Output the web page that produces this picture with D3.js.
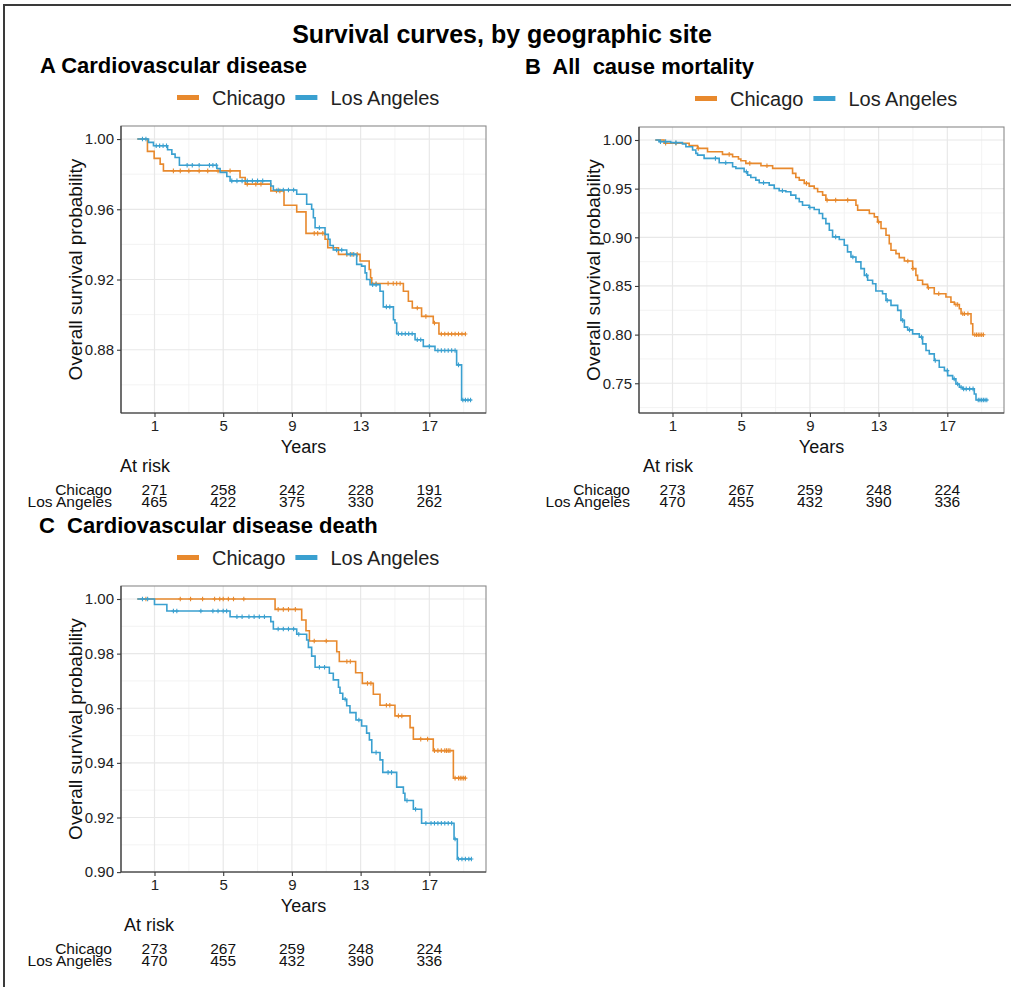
<!DOCTYPE html>
<html>
<head>
<meta charset="utf-8">
<script src="https://cdn.jsdelivr.net/npm/d3@7"></script>
<style>
  body { margin: 0; background: #fff; }
  text { font-family: "Liberation Sans", Arial, sans-serif; }
</style>
</head>
<body>
<svg id="chart" width="1011" height="987"></svg>
<script>
const groups = ["Chicago", "Los Angeles"];
const groupColors = ["#E8892D", "#3AA0D0"];
const xTicks = [1, 5, 9, 13, 17];
const riskTimes = [1, 5, 9, 13, 17];

// A: cardiovascular disease
const cvdYTicks = [0.88, 0.92, 0.96, 1.00];
const cvdChicagoTime = [0, 0.59, 0.98, 1.33, 1.52, 5.98, 6.28, 7.77, 8.54, 9.28, 9.82, 10.93, 11.09, 11.71, 12.97, 13.50, 13.58, 13.65, 15.49, 15.78, 16.01, 16.55, 17.23, 17.56, 19.13];
const cvdChicagoSurv = [1, 0.9930, 0.9890, 0.9857, 0.9819, 0.9781, 0.9743, 0.9705, 0.9623, 0.9585, 0.9463, 0.9429, 0.9381, 0.9343, 0.9305, 0.9257, 0.9210, 0.9177, 0.9133, 0.9076, 0.9038, 0.8990, 0.8952, 0.8890, 0.8890];
const cvdChicagoCensor = [2.1, 2.5, 3.0, 3.6, 4.1, 4.7, 5.4, 6.4, 6.9, 7.2, 8.1, 8.3, 10.3, 10.5, 10.8, 12.2, 12.5, 12.8, 13.9, 14.6, 14.9, 15.1, 15.3, 16.3, 16.8, 17.3, 17.7, 17.9, 18.1, 18.3, 18.5, 18.7, 18.9, 19.1];
const cvdLaTime = [0, 0.65, 0.94, 1.76, 2.01, 2.20, 2.45, 4.63, 4.82, 5.21, 5.40, 7.77, 7.92, 9.28, 9.86, 10.15, 10.25, 10.35, 10.93, 11.12, 11.22, 11.41, 12.19, 12.77, 13.06, 13.26, 13.35, 13.55, 14.13, 14.32, 14.91, 15.00, 15.10, 16.17, 16.65, 17.33, 18.59, 18.88, 19.46];
const cvdLaSurv = [1, 0.9981, 0.9962, 0.9939, 0.9914, 0.9895, 0.9851, 0.9832, 0.9810, 0.9787, 0.9762, 0.9733, 0.9710, 0.9686, 0.9629, 0.9600, 0.9552, 0.9495, 0.9457, 0.9429, 0.9394, 0.9368, 0.9343, 0.9286, 0.9276, 0.9238, 0.9200, 0.9171, 0.9133, 0.9044, 0.8971, 0.8952, 0.8891, 0.8857, 0.8819, 0.8796, 0.8714, 0.8514, 0.8514];
const cvdLaCensor = [0.3, 0.5, 1.1, 1.3, 1.5, 1.7, 2.9, 3.2, 3.6, 4.2, 4.4, 4.6, 5.5, 5.8, 6.1, 6.4, 6.7, 7.0, 7.3, 8.2, 8.5, 8.8, 9.1, 10.6, 11.6, 11.9, 12.4, 12.6, 13.7, 13.9, 14.5, 14.7, 15.2, 15.4, 15.6, 15.8, 16.0, 16.3, 16.5, 17.0, 17.5, 17.7, 17.9, 18.1, 18.3, 18.5, 18.7, 18.95, 19.1, 19.25, 19.4];
const cvdRiskChicago = [271, 258, 242, 228, 191];
const cvdRiskLa = [465, 422, 375, 330, 262];

// B: all cause mortality
const allYTicks = [0.75, 0.80, 0.85, 0.90, 0.95, 1.00];
const allChicagoTime = [0, 0.51, 1.97, 2.46, 3.04, 3.91, 4.50, 4.84, 4.98, 5.27, 6.15, 6.83, 7.99, 8.18, 8.38, 8.67, 8.96, 9.25, 9.45, 9.74, 9.93, 11.68, 11.78, 12.46, 12.75, 12.94, 13.14, 13.43, 13.62, 13.72, 14.01, 14.20, 14.50, 14.98, 15.17, 15.27, 15.56, 15.85, 16.24, 16.92, 17.21, 17.41, 17.70, 17.80, 18.38, 18.48, 19.10];
const allChicagoSurv = [1, 0.9966, 0.9942, 0.9914, 0.9880, 0.9852, 0.9828, 0.9804, 0.9787, 0.9760, 0.9736, 0.9708, 0.9657, 0.9615, 0.9588, 0.9554, 0.9526, 0.9502, 0.9468, 0.9433, 0.9382, 0.9330, 0.9279, 0.9244, 0.9210, 0.9159, 0.9090, 0.9021, 0.8935, 0.8867, 0.8832, 0.8791, 0.8757, 0.8678, 0.8609, 0.8558, 0.8516, 0.8482, 0.8420, 0.8386, 0.8334, 0.8310, 0.8266, 0.8214, 0.8111, 0.7998, 0.7998];
const allChicagoCensor = [0.6, 1.2, 2.5, 4.3, 5.5, 6.5, 8.8, 10.0, 10.5, 11.2, 13.0, 14.7, 15.0, 15.9, 16.5, 17.5, 17.6, 17.9, 18.0, 18.2, 18.6, 18.7, 18.8, 18.9, 19.0, 19.1];
const allLaTime = [0, 0.22, 0.90, 1.58, 1.78, 2.17, 2.36, 2.46, 2.84, 3.72, 4.50, 4.69, 5.17, 5.37, 5.56, 5.85, 6.05, 6.63, 6.92, 7.21, 7.60, 7.89, 8.18, 8.38, 8.57, 8.96, 9.25, 9.54, 9.74, 9.93, 10.13, 10.32, 10.71, 11.00, 11.19, 11.39, 11.68, 11.97, 12.17, 12.36, 12.65, 12.84, 13.23, 13.43, 13.72, 14.11, 14.30, 14.50, 14.69, 14.98, 15.37, 15.56, 15.76, 15.95, 16.24, 16.53, 16.83, 17.02, 17.31, 17.50, 17.70, 17.89, 18.57, 18.67, 19.35];
const allLaSurv = [1, 0.9983, 0.9973, 0.9959, 0.9931, 0.9897, 0.9863, 0.9845, 0.9811, 0.9766, 0.9725, 0.9708, 0.9674, 0.9639, 0.9615, 0.9588, 0.9560, 0.9536, 0.9502, 0.9478, 0.9468, 0.9433, 0.9399, 0.9365, 0.9330, 0.9306, 0.9286, 0.9245, 0.9193, 0.9141, 0.9073, 0.9004, 0.8977, 0.8918, 0.8850, 0.8798, 0.8747, 0.8678, 0.8609, 0.8558, 0.8523, 0.8448, 0.8420, 0.8352, 0.8300, 0.8249, 0.8146, 0.8077, 0.8049, 0.8008, 0.7974, 0.7905, 0.7837, 0.7802, 0.7734, 0.7665, 0.7630, 0.7579, 0.7545, 0.7493, 0.7459, 0.7442, 0.7390, 0.7328, 0.7328];
const allLaCensor = [0.3, 0.6, 1.2, 3.5, 4.1, 5.3, 6.3, 7.4, 9.0, 10.5, 11.5, 12.3, 13.5, 14.4, 14.8, 15.5, 16.3, 17.0, 17.4, 17.6, 17.8, 17.95, 18.1, 18.3, 18.5, 18.8, 18.9, 19.0, 19.1, 19.2, 19.3];
const allRiskChicago = [273, 267, 259, 248, 224];
const allRiskLa = [470, 455, 432, 390, 336];

// C: cardiovascular disease death
const cvdDeathYTicks = [0.90, 0.92, 0.94, 0.96, 0.98, 1.00];
const cvdDeathChicagoTime = [0, 8.02, 9.57, 9.82, 10.02, 11.61, 11.76, 12.71, 13.10, 13.74, 14.13, 15.00, 15.88, 16.07, 17.23, 18.40, 19.13];
const cvdDeathChicagoSurv = [1, 0.9962, 0.9923, 0.9884, 0.9846, 0.9807, 0.9771, 0.9730, 0.9691, 0.9651, 0.9611, 0.9572, 0.9529, 0.9487, 0.9445, 0.9344, 0.9344];
const cvdDeathChicagoCensor = [0.5, 2.5, 3.1, 3.8, 4.5, 4.8, 5.0, 5.3, 5.6, 6.2, 8.2, 8.5, 8.8, 9.2, 10.3, 11.0, 12.2, 12.4, 13.4, 13.6, 14.5, 14.7, 15.2, 15.4, 16.5, 16.9, 17.3, 17.5, 17.7, 17.9, 18.0, 18.1, 18.2, 18.5, 18.7, 18.8, 18.9, 19.0, 19.1];
const cvdDeathLaTime = [0, 1.00, 1.72, 5.40, 7.77, 7.92, 9.28, 9.86, 9.96, 10.15, 10.35, 11.18, 11.41, 11.71, 11.80, 11.96, 12.19, 12.38, 12.73, 13.06, 13.35, 13.51, 13.65, 14.13, 14.29, 15.10, 15.49, 15.58, 16.07, 16.55, 18.44, 18.63, 19.46];
const cvdDeathLaSurv = [1, 0.9980, 0.9956, 0.9935, 0.9917, 0.9890, 0.9871, 0.9850, 0.9823, 0.9791, 0.9750, 0.9728, 0.9704, 0.9677, 0.9655, 0.9633, 0.9609, 0.9584, 0.9557, 0.9535, 0.9509, 0.9484, 0.9438, 0.9411, 0.9365, 0.9311, 0.9289, 0.9262, 0.9230, 0.9179, 0.9121, 0.9048, 0.9048];
const cvdDeathLaCensor = [0.3, 0.6, 2.1, 2.3, 3.7, 4.4, 4.7, 5.0, 5.2, 5.8, 6.1, 6.5, 6.8, 7.1, 7.4, 8.2, 8.5, 8.8, 9.1, 9.4, 10.6, 10.9, 12.1, 12.9, 13.9, 14.6, 14.8, 15.7, 16.2, 16.8, 17.1, 17.3, 17.5, 17.7, 17.9, 18.1, 18.3, 18.5, 18.7, 18.9, 19.1, 19.3, 19.45];
const cvdDeathRiskChicago = allRiskChicago;
const cvdDeathRiskLa = allRiskLa;

const svg = d3.select("#chart");

// outer frame (cropped on the right and bottom in the original)
svg.append("rect")
    .attr("x", 4).attr("y", 5)
    .attr("width", 1200).attr("height", 1200)
    .attr("fill", "none")
    .attr("stroke", "#3a3a3a")
    .attr("stroke-width", 2);

svg.append("text")
    .attr("x", 502).attr("y", 43)
    .attr("text-anchor", "middle")
    .attr("font-size", 25)
    .attr("font-weight", "bold")
    .text("Survival curves, by geographic site");

const panels = [
    {
        title: "A Cardiovascular disease", titleX: 40,
        left: 121, top: 126, width: 365, height: 287, riskX: -1,
        yTicks: cvdYTicks,
        series: [
            {time: cvdChicagoTime, surv: cvdChicagoSurv, censor: cvdChicagoCensor},
            {time: cvdLaTime, surv: cvdLaSurv, censor: cvdLaCensor}
        ],
        risk: [cvdRiskChicago, cvdRiskLa]
    },
    {
        title: "B  All  cause mortality", titleX: 525,
        left: 639, top: 127, width: 365, height: 286, riskX: 4,
        yTicks: allYTicks,
        series: [
            {time: allChicagoTime, surv: allChicagoSurv, censor: allChicagoCensor},
            {time: allLaTime, surv: allLaSurv, censor: allLaCensor}
        ],
        risk: [allRiskChicago, allRiskLa]
    },
    {
        title: "C  Cardiovascular disease death", titleX: 39,
        left: 121, top: 586, width: 365, height: 286, riskX: 3,
        yTicks: cvdDeathYTicks,
        series: [
            {time: cvdDeathChicagoTime, surv: cvdDeathChicagoSurv, censor: cvdDeathChicagoCensor},
            {time: cvdDeathLaTime, surv: cvdDeathLaSurv, censor: cvdDeathLaCensor}
        ],
        risk: [cvdDeathRiskChicago, cvdDeathRiskLa]
    }
];

function minorTicks(major, domain) {
    let step = major[1] - major[0];
    let out = [];
    for (let i = -1; i < major.length; i++) {
        let v = (i < 0 ? major[0] - step : major[i]) + step / 2;
        if (v > domain[0] && v < domain[1]) out.push(v);
    }
    return out;
}

panels.forEach(function (p) {
    let bottom = p.top + p.height;

    let allSurv = d3.merge(p.series.map(s => s.surv));
    let yMin = d3.min(allSurv), yMax = d3.max(allSurv);
    let pad = (yMax - yMin) * 0.05;

    let x = d3.scaleLinear().domain([-0.95, 20.3]).range([p.left, p.left + p.width]);
    let y = d3.scaleLinear().domain([yMin - pad, yMax + pad]).range([bottom, p.top]);

    let g = svg.append("g");

    // panel title
    g.append("text")
        .attr("x", p.titleX).attr("y", p.top - 53)
        .attr("font-size", 22)
        .attr("font-weight", "bold")
        .style("white-space", "pre")
        .text(p.title);

    // legend
    let lx = p.left + 56, ly = p.top - 28.5;
    groups.forEach(function (name, i) {
        g.append("line")
            .attr("x1", lx).attr("x2", lx + 22)
            .attr("y1", ly).attr("y2", ly)
            .attr("stroke", groupColors[i])
            .attr("stroke-width", 5);
        let t = g.append("text")
            .attr("x", lx + 35).attr("y", ly + 7)
            .attr("font-size", 20)
            .attr("fill", "#222")
            .text(name);
        lx = lx + 35 + t.node().getComputedTextLength() + 10;
    });

    // grid
    let grid = g.append("g");
    grid.selectAll(".xminor").data(minorTicks(xTicks, x.domain())).enter().append("line")
        .attr("x1", d => x(d)).attr("x2", d => x(d))
        .attr("y1", p.top).attr("y2", bottom)
        .attr("stroke", "#F0F0F0").attr("stroke-width", 0.8);
    grid.selectAll(".yminor").data(minorTicks(p.yTicks, y.domain())).enter().append("line")
        .attr("x1", p.left).attr("x2", p.left + p.width)
        .attr("y1", d => y(d)).attr("y2", d => y(d))
        .attr("stroke", "#F0F0F0").attr("stroke-width", 0.8);
    grid.selectAll(".xmajor").data(xTicks).enter().append("line")
        .attr("x1", d => x(d)).attr("x2", d => x(d))
        .attr("y1", p.top).attr("y2", bottom)
        .attr("stroke", "#E8E8E8").attr("stroke-width", 1.2);
    grid.selectAll(".ymajor").data(p.yTicks).enter().append("line")
        .attr("x1", p.left).attr("x2", p.left + p.width)
        .attr("y1", d => y(d)).attr("y2", d => y(d))
        .attr("stroke", "#E8E8E8").attr("stroke-width", 1.2);

    // curves
    let line = d3.line()
        .curve(d3.curveStepAfter)
        .x(d => x(d[0]))
        .y(d => y(d[1]));

    p.series.forEach(function (s, i) {
        let pts = s.time.map((t, k) => [t, s.surv[k]]);
        g.append("path")
            .datum(pts)
            .attr("fill", "none")
            .attr("stroke", groupColors[i])
            .attr("stroke-width", 1.6)
            .attr("d", line);

        let marks = s.censor.map(function (c) {
            let k = d3.bisectRight(s.time, c) - 1;
            return [c, s.surv[Math.max(0, k)]];
        });
        g.selectAll(null).data(marks).enter().append("path")
            .attr("d", d => "M" + (x(d[0]) - 2) + "," + y(d[1]) + "h4M" + x(d[0]) + "," + (y(d[1]) - 2.3) + "v4.6")
            .attr("stroke", groupColors[i])
            .attr("stroke-width", 1.1)
            .attr("fill", "none");
    });

    // border and axis lines
    g.append("rect")
        .attr("x", p.left).attr("y", p.top)
        .attr("width", p.width).attr("height", p.height)
        .attr("fill", "none")
        .attr("stroke", "#8a8a8a")
        .attr("stroke-width", 1.1);
    g.append("line")
        .attr("x1", p.left).attr("x2", p.left)
        .attr("y1", p.top).attr("y2", bottom)
        .attr("stroke", "#3a3a3a").attr("stroke-width", 1.2);
    g.append("line")
        .attr("x1", p.left).attr("x2", p.left + p.width)
        .attr("y1", bottom).attr("y2", bottom)
        .attr("stroke", "#3a3a3a").attr("stroke-width", 1.2);

    // axes
    let yAxis = g.append("g")
        .attr("transform", "translate(" + p.left + ",0)")
        .call(d3.axisLeft(y).tickValues(p.yTicks).tickFormat(d3.format(".2f")).tickSize(4).tickPadding(3));
    let xAxis = g.append("g")
        .attr("transform", "translate(0," + bottom + ")")
        .call(d3.axisBottom(x).tickValues(xTicks).tickSize(4).tickPadding(3));
    [yAxis, xAxis].forEach(function (a) {
        a.select(".domain").remove();
        a.selectAll(".tick line").attr("stroke", "#3a3a3a").attr("stroke-width", 1.1);
        a.selectAll(".tick text")
            .attr("font-size", 15)
            .attr("fill", "#222")
            .style("font-family", "'Liberation Sans', Arial, sans-serif");
    });

    // axis titles
    g.append("text")
        .attr("transform", "translate(" + (p.left - 39) + "," + (p.top + p.height / 2) + ") rotate(-90)")
        .attr("text-anchor", "middle")
        .attr("font-size", 19)
        .attr("fill", "#111")
        .text("Overall survival probability");
    g.append("text")
        .attr("x", p.left + p.width / 2).attr("y", bottom + 40)
        .attr("text-anchor", "middle")
        .attr("font-size", 18)
        .attr("fill", "#111")
        .text("Years");

    // at risk table
    g.append("text")
        .attr("x", p.left + p.riskX).attr("y", bottom + 59)
        .attr("font-size", 18)
        .attr("fill", "#111")
        .text("At risk");
    groups.forEach(function (name, i) {
        let rowY = bottom + 81.5 + i * 12;
        g.append("text")
            .attr("x", p.left - 9).attr("y", rowY)
            .attr("text-anchor", "end")
            .attr("font-size", 15.5)
            .attr("fill", "#111")
            .text(name);
        g.selectAll(null).data(p.risk[i]).enter().append("text")
            .attr("x", (d, k) => x(riskTimes[k]))
            .attr("y", rowY)
            .attr("text-anchor", "middle")
            .attr("font-size", 15.5)
            .attr("fill", "#111")
            .text(d => d);
    });
});
</script>
</body>
</html>
